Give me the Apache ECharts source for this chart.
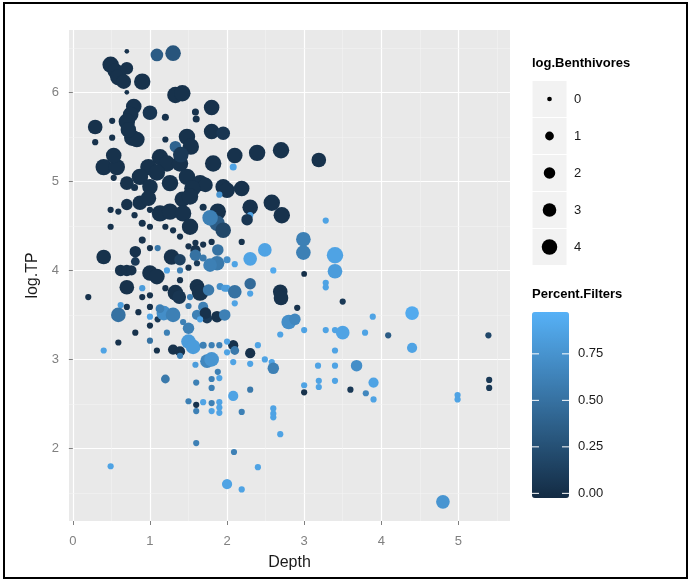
<!DOCTYPE html>
<html>
<head>
<meta charset="utf-8">
<script src="https://cdn.jsdelivr.net/npm/echarts@6/dist/echarts.min.js"></script>
<style>
  html, body { margin: 0; background: #fff; }
  #chart { width: 692px; height: 581px; }
</style>
</head>
<body>
<div id="chart"></div>
<script>
// each point: [Depth, log.TP, log.Benthivores, Percent.Filters]
var upperCluster = [
  [0.70,6.46,0,0.05],[0.49,6.31,4.5,0.05],[0.55,6.24,4,0.05],[0.59,6.17,4.5,0.05],
  [0.70,6.27,2.5,0.05],[0.66,6.12,3.5,0.05],[0.90,6.12,4.5,0.05],[1.09,6.42,2.5,0.35],
  [1.30,6.44,4,0.3],[0.70,6.00,0,0.05],[1.33,5.97,4.5,0.05],[1.42,5.99,4.5,0.05],
  [0.79,5.84,4,0.05],[0.75,5.75,4,0.05],[1.00,5.77,3.5,0.08],[1.20,5.72,0.5,0.05],
  [0.70,5.67,4.5,0.05],[0.29,5.61,3.5,0.05],[0.51,5.68,0.3,0.05],[0.29,5.44,0.3,0.05],
  [0.51,5.49,0.3,0.05],[0.77,5.49,4.5,0.05],[0.83,5.47,4,0.05],[0.72,5.58,4,0.05],
  [1.20,5.47,0.3,0.05],[1.59,5.78,0.5,0.05],[1.60,5.70,0.5,0.05],[1.80,5.83,4,0.05],
  [1.80,5.56,4,0.05],[1.95,5.54,3,0.08],[1.48,5.50,4.5,0.05],[1.53,5.39,4.5,0.05],
  [1.33,5.39,2,0.4],[1.13,5.27,4.5,0.05],[0.98,5.16,4.5,0.05],[1.22,5.20,4.5,0.05],
  [1.39,5.20,4.5,0.05],[1.40,5.30,4,0.1],[0.40,5.16,4.5,0.05],[0.57,5.16,4.5,0.05],
  [0.53,5.29,4,0.05],[0.53,5.04,0.3,0.05],[0.70,4.98,3,0.05],[0.87,5.05,4.5,0.05],
  [1.09,5.10,4.5,0.05],[1.00,4.94,4,0.05],[1.26,4.98,4.5,0.05],[1.48,5.05,4.5,0.05],
  [1.65,4.98,4.5,0.05],[1.95,4.94,4,0.05],[1.82,5.20,4.5,0.05],[2.08,5.16,0.5,0.85],
  [2.10,5.29,4,0.05],[2.39,5.32,4.5,0.05],[2.70,5.35,4.5,0.05],[3.19,5.24,3.5,0.05],
  [1.72,4.96,3.5,0.05],[2.00,4.90,4,0.05],[2.19,4.92,4,0.05],[1.55,4.92,4.5,0.05],
  [1.42,4.80,4,0.05],[0.70,4.74,2,0.05],[0.87,4.76,3.5,0.05],[0.98,4.81,4,0.05],
  [1.13,4.64,4.5,0.05],[1.26,4.66,4.5,0.05],[1.43,4.64,4.5,0.05],[1.52,4.83,4.5,0.05],
  [1.52,4.49,4.5,0.05],[1.69,4.71,0.5,0.05],[1.88,4.66,4.5,0.05],[1.87,4.53,4,0.35],
  [1.95,4.45,4,0.2],[1.78,4.59,4,0.6],[2.30,4.71,4,0.05],[2.30,4.62,0.3,0.85],
  [2.26,4.57,2,0.08],[2.58,4.76,4.5,0.05],[2.71,4.62,4.5,0.05],[0.49,4.68,0.3,0.05],
  [0.59,4.66,0.3,0.05],[0.49,4.49,0.3,0.05],[0.90,4.53,0.5,0.05],[0.90,4.34,0.5,0.05],
  [1.00,4.49,0.3,0.05],[1.20,4.49,0.3,0.05],[1.30,4.45,0.3,0.05],[1.39,4.38,0.3,0.05],
  [0.80,4.62,0.3,0.05],[1.00,4.68,0.3,0.05],[0.80,4.93,0.5,0.05],[1.90,4.85,0.3,0.75],
  [2.19,4.32,0.3,0.05],[1.69,4.29,0.3,0.05],[1.80,4.32,0.3,0.05],[1.50,4.27,0.3,0.05],
  [1.59,4.31,0.3,0.05],[1.59,4.23,1.5,0.05],[1.88,4.23,2,0.5],[3.28,4.56,0.3,0.85]
];
var band40 = [
  [0.40,4.15,3.5,0.05],[0.81,4.21,2,0.05],[0.81,4.10,1,0.1],[1.00,4.25,0.3,0.05],
  [1.10,4.25,0.3,0.55],[1.28,4.15,4,0.05],[1.39,4.12,2,0.15],[1.59,4.17,2,0.5],
  [1.50,4.03,0.3,0.05],[1.61,4.08,0.3,0.1],[1.69,4.14,0.5,0.55],[1.87,4.08,3.5,0.55],
  [1.78,4.06,3,0.6],[2.00,4.12,0.5,0.7],[2.10,4.07,0.3,0.85],[2.30,4.13,3,0.85],
  [2.49,4.23,3,0.85],[2.60,4.00,0.3,0.9],[2.99,4.35,3.5,0.6],[2.99,4.20,3.5,0.6],
  [3.40,4.17,4.5,0.85],[3.40,3.99,3.5,0.8],[3.28,3.86,0.3,0.85],[3.28,3.81,0.3,0.85],
  [3.50,3.65,0.3,0.1],[3.00,3.96,0.2,0.03],[0.62,4.00,2,0.05],[0.70,4.00,2,0.05],
  [0.76,4.00,1.5,0.05],[1.00,3.97,4,0.05],[1.09,3.93,4,0.05],[1.22,4.00,0.3,0.85],
  [1.39,4.00,0.3,0.6],[1.39,3.89,0.3,0.05]
];
var band35 = [
  [0.20,3.70,0.3,0.05],[0.70,3.81,3.5,0.05],[0.90,3.80,0.3,0.8],[0.90,3.70,0.3,0.05],
  [1.00,3.72,0.3,0.05],[1.20,3.80,0.3,0.05],[1.33,3.75,4,0.05],[1.38,3.70,3,0.08],
  [1.61,3.82,3.5,0.05],[1.65,3.75,4.5,0.05],[1.76,3.78,2,0.55],[1.91,3.82,0.5,0.7],
  [2.00,3.80,0.5,0.85],[1.97,3.80,0.5,0.8],[2.10,3.76,3,0.5],[2.10,3.63,0.3,0.85],
  [2.30,3.85,2,0.45],[2.30,3.74,0.3,0.85],[2.69,3.76,3.5,0.05],[2.70,3.69,3.5,0.05],
  [2.91,3.58,0.3,0.05],[0.62,3.61,0.3,0.8],[0.70,3.59,0.3,0.05],[0.59,3.50,3.5,0.5],
  [0.85,3.53,0.3,0.05],[1.00,3.59,0.3,0.05],[1.00,3.48,0.3,0.85],[1.10,3.45,0.3,0.1],
  [1.18,3.52,3.5,0.7],[1.30,3.50,3.5,0.6],[1.13,3.57,1,0.6],[1.61,3.50,1.5,0.6],
  [1.69,3.59,1.5,0.6],[1.74,3.46,1.5,0.1],[1.87,3.48,2,0.05],[1.97,3.50,2,0.6],
  [1.72,3.52,2,0.05],[1.43,3.42,0.3,0.6],[1.50,3.60,0.3,0.55],[1.52,3.70,0.3,0.6],
  [1.65,3.45,0.3,0.85],[1.00,3.38,0.3,0.05],[1.22,3.30,0.3,0.6],[1.50,3.35,2,0.6],
  [2.80,3.42,3.5,0.7],[2.88,3.45,2,0.65],[2.69,3.28,0.3,0.85],[3.00,3.33,0.3,0.85],
  [3.28,3.33,0.3,0.85],[3.40,3.33,0.3,0.85],[3.50,3.30,3,0.85],[3.79,3.30,0.3,0.85],
  [3.89,3.48,0.3,0.85],[4.40,3.52,3,0.9],[4.09,3.27,0.3,0.35],[5.39,3.27,0.3,0.2]
];
var band30 = [
  [0.40,3.10,0.3,0.85],[0.59,3.19,0.3,0.05],[0.81,3.30,0.3,0.05],[1.00,3.21,0.3,0.5],
  [1.09,3.10,0.3,0.05],[1.30,3.11,1.5,0.05],[1.39,3.09,1.5,0.05],[1.39,3.04,0.3,0.6],
  [1.50,3.20,3.5,0.8],[1.56,3.14,3.5,0.8],[1.59,2.94,0.3,0.8],[1.69,3.16,0.5,0.6],
  [1.80,3.16,0.3,0.6],[1.90,3.16,0.3,0.6],[1.74,2.98,3,0.65],[1.80,3.00,3.5,0.75],
  [1.88,2.86,0.3,0.6],[2.08,3.16,1.5,0.05],[2.10,3.10,1,0.55],[2.00,3.20,0.3,0.85],
  [2.00,3.08,0.3,0.85],[2.30,3.07,1.5,0.05],[2.40,3.16,0.3,0.85],[2.08,2.97,0.3,0.85],
  [2.30,2.95,0.3,0.85],[2.49,3.00,0.3,0.85],[2.58,2.97,0.3,0.85],[2.60,2.90,2,0.6],
  [3.18,2.93,0.3,0.85],[3.40,2.93,0.3,0.85],[3.40,3.10,0.3,0.85],[3.68,2.93,2,0.7],
  [4.40,3.13,1.5,0.85]
];
var lowBand = [
  [1.20,2.78,1,0.55],[1.60,2.74,0.3,0.6],[1.80,2.78,0.3,0.6],[1.90,2.79,0.3,0.85],
  [1.80,2.68,0.3,0.6],[1.50,2.53,0.3,0.6],[1.60,2.49,0.3,0.05],[1.60,2.42,0.3,0.6],
  [1.69,2.52,0.3,0.85],[1.80,2.51,0.3,0.6],[1.90,2.52,0.3,0.85],[1.90,2.46,0.3,0.85],
  [1.80,2.42,0.3,0.85],[1.90,2.40,0.3,0.85],[2.08,2.59,1.5,0.85],[2.30,2.66,0.3,0.55],
  [2.19,2.41,0.3,0.6],[2.60,2.45,0.3,0.85],[2.60,2.39,0.3,0.85],[2.60,2.35,0.3,0.85],
  [2.69,2.16,0.3,0.85],[3.00,2.71,0.3,0.85],[3.00,2.63,0.3,0.05],[3.19,2.76,0.3,0.85],
  [3.19,2.69,0.3,0.85],[3.40,2.76,0.3,0.85],[3.60,2.66,0.3,0.1],[3.80,2.62,0.3,0.65],
  [3.90,2.74,1.5,0.85],[3.90,2.55,0.3,0.85],[5.40,2.77,0.3,0.1],[5.40,2.68,0.3,0.1],
  [4.99,2.60,0.3,0.85],[4.99,2.55,0.3,0.85],[1.60,2.06,0.3,0.6],[2.09,1.96,0.3,0.6],
  [0.49,1.80,0.3,0.85],[2.00,1.60,1.5,0.85],[2.19,1.54,0.3,0.85],[2.40,1.79,0.3,0.85],
  [4.80,1.40,3,0.75]
];

var xTicks = [0, 1, 2, 3, 4, 5];
var yTicks = [2, 3, 4, 5, 6];
var xMinor = [0.5, 1.5, 2.5, 3.5, 4.5, 5.5];
var yMinor = [1.5, 2.5, 3.5, 4.5, 5.5, 6.5];
var sizeBreaks = [0, 1, 2, 3, 4];
var colorBreaks = [0, 0.25, 0.5, 0.75];
var filterMax = 0.95;

var allPoints = [].concat(upperCluster, band40, band35, band30, lowBand);

function sizeOf(b) {
  return Math.sqrt(22 + 55 * b);
}

var chart = echarts.init(document.getElementById('chart'));

// legend bits (ggplot style), built with graphic
var graphics = [];
graphics.push({
  type: 'rect', shape: { x: 4, y: 3, width: 683, height: 575 },
  style: { fill: 'none', stroke: '#000', lineWidth: 2 }, silent: true
});
graphics.push({
  type: 'text', left: 532, top: 57,
  style: { text: 'log.Benthivores', font: 'bold 13px "Liberation Sans", Arial', fill: '#000' }
});
sizeBreaks.forEach(function (b, i) {
  var cy = 99 + i * 37;
  graphics.push({
    type: 'rect', shape: { x: 532, y: cy - 18.5, width: 35, height: 37 },
    style: { fill: '#F2F2F2', stroke: '#fff', lineWidth: 1 }, silent: true
  });
  graphics.push({
    type: 'circle', shape: { cx: 549.5, cy: cy, r: sizeOf(b) / 2 },
    style: { fill: '#000' }, silent: true
  });
  graphics.push({
    type: 'text', x: 574, y: cy,
    style: { text: String(b), font: '13px "Liberation Sans", Arial', fill: '#1a1a1a', verticalAlign: 'middle' }
  });
});
graphics.push({
  type: 'text', left: 532, top: 288,
  style: { text: 'Percent.Filters', font: 'bold 13px "Liberation Sans", Arial', fill: '#000' }
});
var barTop = 312, barH = 186, barL = 532, barW = 37, halfBin = barH / 40;
function barY(v) {
  return barTop + halfBin + (1 - v / filterMax) * (barH - 2 * halfBin);
}
colorBreaks.forEach(function (v) {
  var y = barY(v);
  graphics.push({ type: 'line', shape: { x1: barL, y1: y, x2: barL + 7, y2: y }, style: { stroke: '#fff', lineWidth: 1 }, z: 10, silent: true });
  graphics.push({ type: 'line', shape: { x1: barL + barW - 7, y1: y, x2: barL + barW, y2: y }, style: { stroke: '#fff', lineWidth: 1 }, z: 10, silent: true });
  graphics.push({
    type: 'text', x: 578, y: y,
    style: { text: v.toFixed(2), font: '13px "Liberation Sans", Arial', fill: '#1a1a1a', verticalAlign: 'middle' }
  });
});

var minorLines = xMinor.map(function (v) { return { xAxis: v }; })
  .concat(yMinor.map(function (v) { return { yAxis: v }; }));

var option = {
  animation: false,
  grid: {
    left: 69, right: 182, top: 30, bottom: 60,
    show: true, backgroundColor: '#E9E9E9', borderWidth: 0
  },
  xAxis: {
    type: 'value', min: -0.05, max: 5.67,
    name: 'Depth', nameLocation: 'middle', nameGap: 34,
    nameTextStyle: { fontSize: 16, color: '#1a1a1a', fontFamily: 'Liberation Sans' },
    axisLine: { show: false },
    axisTick: { show: true, customValues: xTicks, length: 4, lineStyle: { color: '#808080' } },
    axisLabel: { customValues: xTicks, color: '#808080', fontSize: 13, margin: 14, fontFamily: 'Liberation Sans' },
    splitLine: { show: true, lineStyle: { color: '#fff', width: 1.2 } }
  },
  yAxis: {
    type: 'value', min: 1.185, max: 6.70,
    name: 'log.TP', nameLocation: 'middle', nameGap: 24,
    nameTextStyle: { fontSize: 16, color: '#1a1a1a', fontFamily: 'Liberation Sans' },
    axisLine: { show: false },
    axisTick: { show: true, customValues: yTicks, length: 4, lineStyle: { color: '#808080' } },
    axisLabel: { customValues: yTicks, color: '#808080', fontSize: 13, margin: 10, fontFamily: 'Liberation Sans' },
    splitLine: { show: true, lineStyle: { color: '#fff', width: 1.2 } }
  },
  visualMap: {
    type: 'continuous', min: 0, max: filterMax, dimension: 3, seriesIndex: 1,
    inRange: { color: ['#132B43', '#56B1F7'] },
    left: barL, top: barTop, itemWidth: barW, itemHeight: barH, padding: 0,
    calculable: false, hoverLink: false, text: null, orient: 'vertical'
  },
  graphic: graphics,
  series: [
    {
      type: 'scatter', data: [], silent: true, z: 1,
      markLine: {
        silent: true, z: 1, symbol: ['none', 'none'], label: { show: false },
        lineStyle: { color: '#F4F4F4', width: 0.6, type: 'solid' },
        data: minorLines
      }
    },
    {
      type: 'scatter', data: allPoints, z: 3,
      symbolSize: function (v) { return sizeOf(v[2]); },
      itemStyle: { opacity: 1 },
      emphasis: { disabled: true }
    }
  ]
};
chart.setOption(option);
</script>
</body>
</html>
